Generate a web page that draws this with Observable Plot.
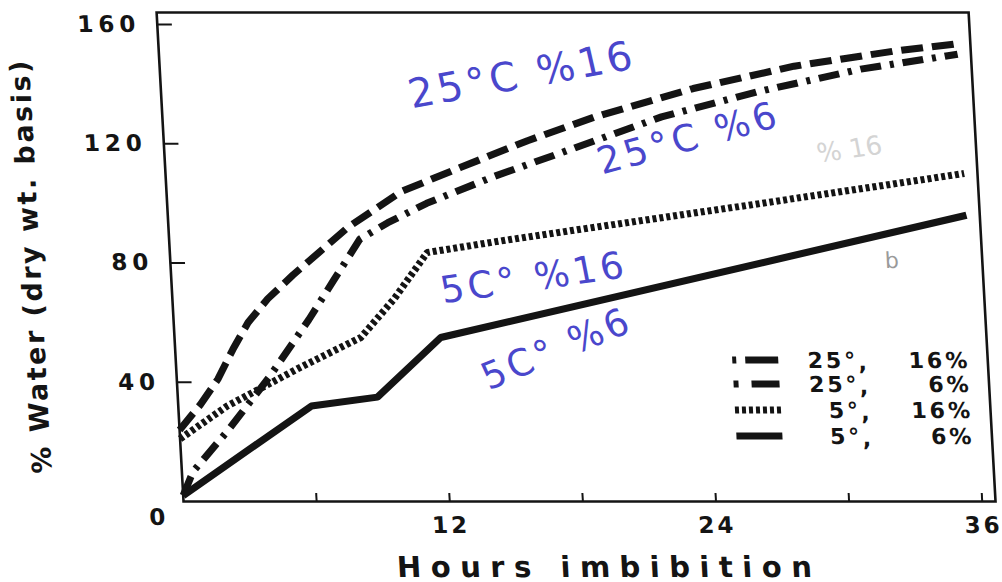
<!DOCTYPE html>
<html>
<head>
<meta charset="utf-8">
<script src="https://cdn.jsdelivr.net/npm/d3@7"></script>
<script src="https://cdn.jsdelivr.net/npm/@observablehq/plot@0.6"></script>
<style>
  html, body { margin: 0; padding: 0; background: #fff; }
  #chart { position: relative; width: 1002px; height: 582px; overflow: hidden; }
  #chart svg g[aria-label="y-axis tick label"] text { letter-spacing: 5px; }
  #chart svg g[aria-label="x-axis tick label"] text { letter-spacing: 3px; }
</style>
</head>
<body>
<div id="chart"></div>
<script>
// ---------- data ----------
const seriesNames = ["25°, 16%", "25°, 6%", "5°, 16%", "5°, 6%"];

const hours25_16 = [0, 1, 1.85, 2.6, 3.35, 4.3, 5.5, 8.1, 10.6, 13.3, 16.4, 19.5, 24, 28.6, 33.1, 36];
const water25_16 = [24, 32.5, 41, 51, 60, 68, 76, 92, 104, 112, 121, 129, 138.5, 146, 151, 153.5];

const hours25_6 = [0, 0.5, 2.2, 4.2, 6.1, 7.3, 8.6, 9.9, 11.7, 14.8, 17.9, 22.5, 27, 31.6, 36];
const water25_6 = [2, 10, 24, 42, 61, 74, 88, 93.5, 100, 109, 117, 129, 137.6, 145, 150];

const hours5_16 = [0, 2.2, 5.6, 8.4, 10, 11.6, 14.6, 18.3, 26.8, 36];
const water5_16 = [21, 32, 45, 55, 68, 83.5, 87, 91, 100, 110];

const hours5_6 = [0, 6, 9, 12, 36];
const water5_6 = [2, 32, 35, 55, 96];

const xTickLabels = [12, 24, 36];
const xTickMarks = [6, 12, 18, 24, 30, 36];
const yTickLabels = [40, 80, 120, 160];
const cornerLabel = "0";
const xLabel = "Hours imbibition";
const yLabel = "% Water (dry wt. basis)";

const legendTemps = ["25°", "25°", "5°", "5°"];
const legendPcts = ["16%", "6%", "16%", "6%"];

const notes = ["25°C %16", "25°C %6", "5C° %16", "5C° %6"];
const faintNotes = ["% 16", "b"];

// ---------- build ----------
const zip = (hs, ws) => hs.map((h, i) => ({h, w: ws[i]}));
const rows = [
  zip(hours25_16, water25_16),
  zip(hours25_6, water25_6),
  zip(hours5_16, water5_16),
  zip(hours5_6, water5_6)
];
const dashes = ["22,9", "21,9,4,9", "4,3", null];
const ink = "#141414";

const plot = Plot.plot({
  width: 1002,
  height: 582,
  marginLeft: 183,
  marginRight: 7,
  marginTop: 12,
  marginBottom: 81,
  x: {domain: [0, 36.6]},
  y: {domain: [0, 164]},
  style: {fontFamily: "'DejaVu Sans', sans-serif", background: "#fff", color: ink, overflow: "visible"},
  marks: [
    Plot.frame({stroke: ink, strokeWidth: 2.6}),
    Plot.axisX(xTickLabels, {tickSize: 0, tickPadding: 15, fontSize: 23, fontWeight: "bold", label: null}),
    Plot.axisY(yTickLabels, {tickSize: 0, tickPadding: 17, fontSize: 23, fontWeight: "bold", label: null}),
    Plot.ruleY(yTickLabels, {x1: 0, x2: 0.68, stroke: ink, strokeWidth: 2}),
    Plot.ruleX(xTickMarks, {y1: 0, y2: 2.7, stroke: ink, strokeWidth: 2}),
    Plot.text([cornerLabel], {x: 0, y: 0, text: d => d, dx: -27, dy: 16, fontSize: 23, fontWeight: "bold", fill: ink}),
    ...rows.map((r, i) => Plot.line(r, {
      x: "h", y: "w", stroke: ink, strokeWidth: 7,
      strokeDasharray: dashes[i], strokeLinecap: "butt", strokeLinejoin: "miter"
    })),
    Plot.text([xLabel], {frameAnchor: "bottom", text: d => d, textAnchor: "middle", dx: 16, dy: 75,
      lineAnchor: "bottom", fontSize: 29, fontWeight: "bold", fill: ink}),
    Plot.text([yLabel], {frameAnchor: "left", text: d => d, textAnchor: "middle", rotate: -90, dx: -139, dy: 9,
      fontSize: 27, fontWeight: "bold", fill: ink})
  ]
});

document.getElementById("chart").appendChild(plot);

const svg = d3.select(plot);
// letter spacing of the wide, spaced-out typeface of the original
svg.selectAll("text").filter(function() { return this.textContent === xLabel; }).style("letter-spacing", "9.5px");
svg.selectAll("text").filter(function() { return this.textContent === yLabel; }).style("letter-spacing", "2.5px");

// ---------- legend (inside the frame, lower right) ----------
const legY = [360, 384, 410, 436];
const legDash = ["4,9,33", "5,13,28", "4,3", null];
const leg = svg.append("g")
  .attr("font-family", "'DejaVu Sans', sans-serif")
  .attr("font-weight", "bold")
  .attr("font-size", 22)
  .attr("fill", ink)
  .style("letter-spacing", "3px");
seriesNames.forEach((name, i) => {
  const g = leg.append("g").attr("aria-label", name);
  g.append("line")
    .attr("x1", 740).attr("x2", 786)
    .attr("y1", legY[i]).attr("y2", legY[i])
    .attr("stroke", ink).attr("stroke-width", 7)
    .attr("stroke-dasharray", legDash[i]);
  g.append("text").attr("x", 866).attr("y", legY[i] + 8)
    .attr("text-anchor", "end").text(legendTemps[i]);
  g.append("text").attr("x", 866).attr("y", legY[i] + 10)
    .attr("text-anchor", "start").text(",");
  g.append("text").attr("x", 978).attr("y", legY[i] + 8)
    .attr("text-anchor", "end").text(legendPcts[i]);
});

// ---------- handwritten notes ----------
const notePos = [[548, 88, -10, 40], [712, 150, -15, 37], [548, 290, -8, 37], [570, 360, -22, 37]];
const noteG = svg.append("g")
  .attr("font-family", "'DejaVu Sans', sans-serif")
  .attr("fill", "#4a47cc")
  .attr("text-anchor", "middle")
  .style("letter-spacing", "4px");
notes.forEach((t, i) => {
  const [x, y, r, fs] = notePos[i];
  noteG.append("text")
    .attr("transform", `translate(${x},${y}) rotate(${r})`)
    .attr("font-size", fs)
    .text(t);
});
const faintPos = [[870, 158, -8, 26], [905, 268, 0, 22]];
const faintG = svg.append("g")
  .attr("font-family", "'DejaVu Sans', sans-serif")
  .attr("text-anchor", "middle");
faintNotes.forEach((t, i) => {
  const [x, y, r, fs] = faintPos[i];
  faintG.append("text")
    .attr("transform", `translate(${x},${y}) rotate(${r})`)
    .attr("font-size", fs)
    .attr("fill", i === 0 ? "#d4d4d4" : "#9a9a9a")
    .text(t);
});

// ---------- scanned-page shear ----------
const y0 = plot.scale("y").apply(0);
plot.style.transformOrigin = `0px ${y0}px`;
plot.style.transform = "skewX(3.15deg)";
</script>
</body>
</html>
